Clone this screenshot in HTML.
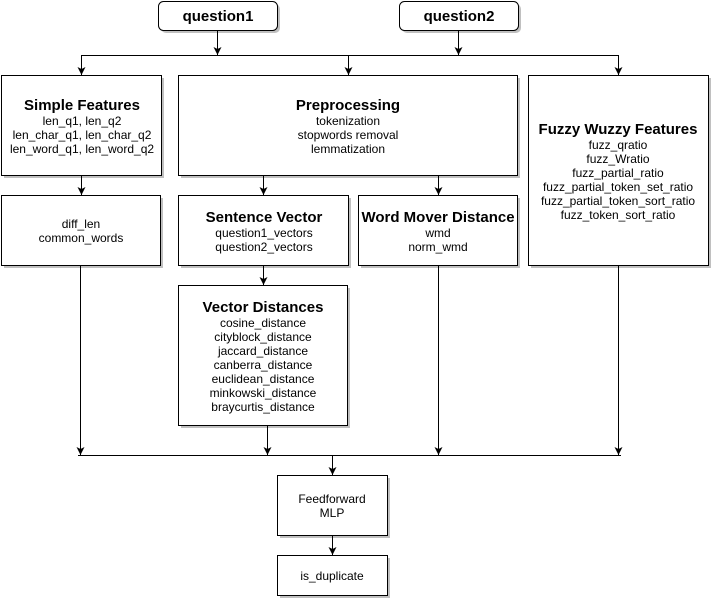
<!DOCTYPE html>
<html><head><meta charset="utf-8"><style>
html,body{margin:0;padding:0;background:#fff;}
svg{display:block;font-family:"Liberation Sans",Arial,sans-serif;}
.t{font-size:15px;font-weight:bold;text-anchor:middle;fill:#000}
.s{font-size:12px;text-anchor:middle;fill:#000}
.b{fill:#fff;stroke:#000;stroke-width:1}
.sh{fill:#c0c0c0}
.l{stroke:#000;stroke-width:1;fill:none}
</style></head><body>
<svg width="711" height="599" viewBox="0 0 711 599">
<defs><marker id="a" markerWidth="9" markerHeight="9" refX="8" refY="4" orient="auto" markerUnits="userSpaceOnUse"><path d="M0,0 L8,4 L0,8 L2,4 Z" fill="#000"/></marker></defs>
<!-- shadows -->
<rect class="sh" x="161" y="4" width="119" height="29" rx="5"/>
<rect class="sh" x="402" y="4" width="119" height="29" rx="5"/>
<rect class="sh" x="4" y="78" width="160" height="100"/>
<rect class="sh" x="181" y="78" width="339" height="100"/>
<rect class="sh" x="531" y="78" width="180" height="190"/>
<rect class="sh" x="4" y="198" width="159" height="70"/>
<rect class="sh" x="181" y="198" width="170" height="70"/>
<rect class="sh" x="361" y="198" width="159" height="70"/>
<rect class="sh" x="181" y="288" width="169" height="140"/>
<rect class="sh" x="280" y="478" width="110" height="60"/>
<rect class="sh" x="280" y="558" width="110" height="40"/>
<!-- lines -->
<path class="l" d="M217.5 30 V55" marker-end="url(#a)"/>
<path class="l" d="M458.5 30 V55" marker-end="url(#a)"/>
<path class="l" d="M81.5 55.5 H618.5"/>
<path class="l" d="M81.5 55 V75" marker-end="url(#a)"/>
<path class="l" d="M348.5 55 V75" marker-end="url(#a)"/>
<path class="l" d="M618.5 55 V75" marker-end="url(#a)"/>
<path class="l" d="M81.5 175 V195" marker-end="url(#a)"/>
<path class="l" d="M263.5 175 V195" marker-end="url(#a)"/>
<path class="l" d="M438.5 175 V195" marker-end="url(#a)"/>
<path class="l" d="M263.5 265 V285" marker-end="url(#a)"/>
<path class="l" d="M78 455.5 H621"/>
<path class="l" d="M80.5 265 V455" marker-end="url(#a)"/>
<path class="l" d="M267.5 425 V455" marker-end="url(#a)"/>
<path class="l" d="M438.5 265 V455" marker-end="url(#a)"/>
<path class="l" d="M618.5 265 V455" marker-end="url(#a)"/>
<path class="l" d="M332.5 455 V475" marker-end="url(#a)"/>
<path class="l" d="M332.5 535 V555" marker-end="url(#a)"/>
<!-- boxes -->
<rect class="b" x="158.5" y="1.5" width="119" height="29" rx="5"/>
<text class="t" x="218" y="21">question1</text>
<rect class="b" x="399.5" y="1.5" width="119" height="29" rx="5"/>
<text class="t" x="459" y="21">question2</text>

<rect class="b" x="1.5" y="75.5" width="160" height="100"/>
<text class="t" x="82" y="110">Simple Features</text>
<text class="s" x="82" y="125">len_q1, len_q2</text>
<text class="s" x="82" y="139">len_char_q1, len_char_q2</text>
<text class="s" x="82" y="153">len_word_q1, len_word_q2</text>

<rect class="b" x="178.5" y="75.5" width="339" height="100"/>
<text class="t" x="348" y="110">Preprocessing</text>
<text class="s" x="348" y="125">tokenization</text>
<text class="s" x="348" y="139">stopwords removal</text>
<text class="s" x="348" y="153">lemmatization</text>

<rect class="b" x="528.5" y="75.5" width="180" height="190"/>
<text class="t" x="618" y="134">Fuzzy Wuzzy Features</text>
<text class="s" x="618" y="149">fuzz_qratio</text>
<text class="s" x="618" y="163">fuzz_Wratio</text>
<text class="s" x="618" y="177">fuzz_partial_ratio</text>
<text class="s" x="618" y="191">fuzz_partial_token_set_ratio</text>
<text class="s" x="618" y="205">fuzz_partial_token_sort_ratio</text>
<text class="s" x="618" y="219">fuzz_token_sort_ratio</text>

<rect class="b" x="1.5" y="195.5" width="159" height="70"/>
<text class="s" x="81" y="228">diff_len</text>
<text class="s" x="81" y="242">common_words</text>

<rect class="b" x="178.5" y="195.5" width="170" height="70"/>
<text class="t" x="264" y="222">Sentence Vector</text>
<text class="s" x="264" y="237">question1_vectors</text>
<text class="s" x="264" y="251">question2_vectors</text>

<rect class="b" x="358.5" y="195.5" width="159" height="70"/>
<text class="t" x="438" y="222">Word Mover Distance</text>
<text class="s" x="438" y="237">wmd</text>
<text class="s" x="438" y="251">norm_wmd</text>

<rect class="b" x="178.5" y="285.5" width="169" height="140"/>
<text class="t" x="263" y="312">Vector Distances</text>
<text class="s" x="263" y="327">cosine_distance</text>
<text class="s" x="263" y="341">cityblock_distance</text>
<text class="s" x="263" y="355">jaccard_distance</text>
<text class="s" x="263" y="369">canberra_distance</text>
<text class="s" x="263" y="383">euclidean_distance</text>
<text class="s" x="263" y="397">minkowski_distance</text>
<text class="s" x="263" y="411">braycurtis_distance</text>

<rect class="b" x="277.5" y="475.5" width="110" height="60"/>
<text class="s" x="332" y="503">Feedforward</text>
<text class="s" x="332" y="517">MLP</text>

<rect class="b" x="277.5" y="555.5" width="110" height="40"/>
<text class="s" x="332" y="580">is_duplicate</text>
</svg>
</body></html>
